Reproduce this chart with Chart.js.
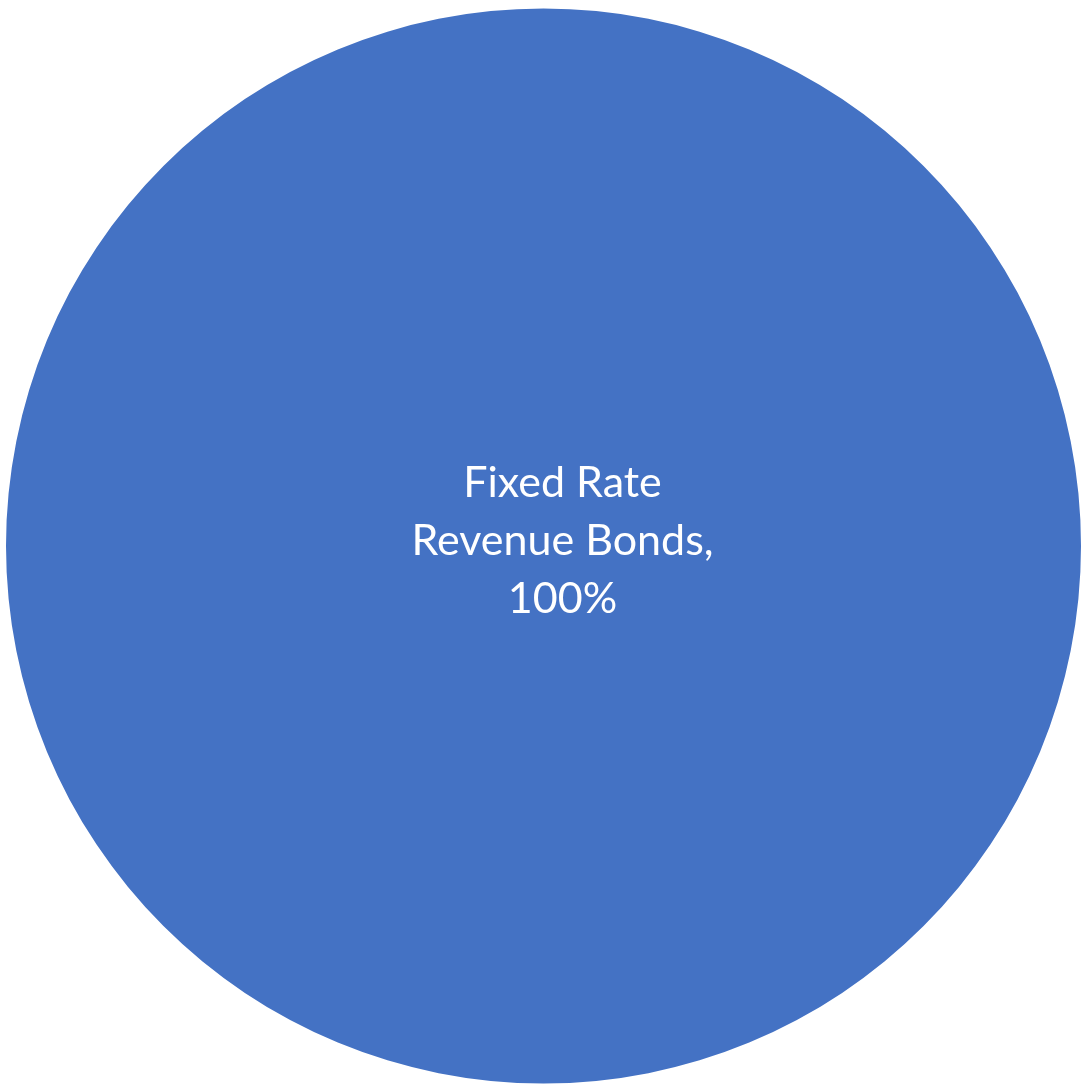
<!DOCTYPE html>
<html>
<head>
<meta charset="utf-8">
<script src="https://cdn.jsdelivr.net/npm/chart.js@4"></script>
<style>
  html, body { margin: 0; padding: 0; background: #ffffff; }
  #wrap { width: 1086px; height: 1086px; }
</style>
</head>
<body>
<div id="wrap"><canvas id="chart" width="1086" height="1086"></canvas></div>
<script>
// data
const categories = ["Fixed Rate Revenue Bonds"];
const shares = [100];
const sliceColors = ["#4472C4"];

// label in the slice: name, percent (sits a bit right of centre, like the original)
const sliceLabels = {
  id: "sliceLabels",
  afterDatasetsDraw(chart) {
    const ctx = chart.ctx;
    const meta = chart.getDatasetMeta(0);
    const total = shares.reduce((a, b) => a + b, 0);
    meta.data.forEach((arc, i) => {
      const pct = Math.round((shares[i] / total) * 100) + "%";
      const x = arc.x + 19;
      const y = arc.y + 9;
      const lines = ["Fixed Rate", "Revenue Bonds,", pct];
      ctx.save();
      ctx.fillStyle = "#ffffff";
      ctx.font = "43px Lato";
      ctx.textAlign = "center";
      ctx.textBaseline = "alphabetic";
      const lh = 58;
      lines.forEach((t, k) => {
        ctx.fillText(t, x, y - lh + k * lh);
      });
      ctx.restore();
    });
  },
};

const chart = new Chart(document.getElementById("chart").getContext("2d"), {
  type: "pie",
  data: {
    labels: categories,
    datasets: [
      {
        data: shares,
        backgroundColor: sliceColors,
        borderWidth: 0,
      },
    ],
  },
  options: {
    responsive: false,
    animation: false,
    layout: { padding: { top: 8, bottom: 2, left: 6, right: 5 } },
    plugins: {
      legend: { display: false },
      tooltip: { enabled: false },
    },
  },
  plugins: [sliceLabels],
});
</script>
</body>
</html>
